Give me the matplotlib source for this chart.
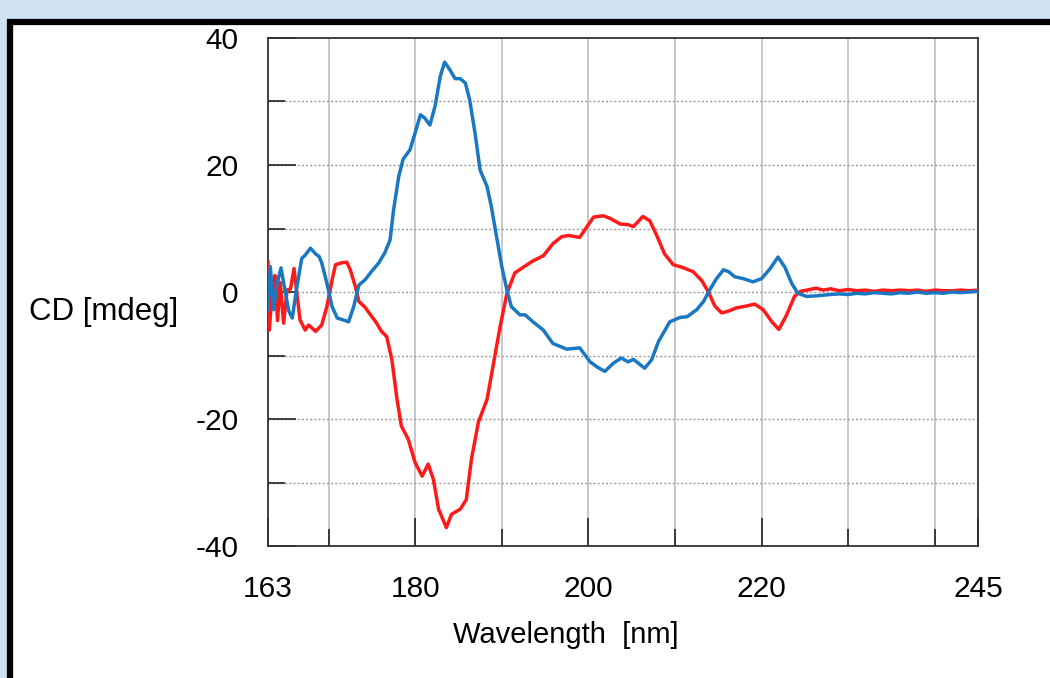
import matplotlib
matplotlib.use("Agg")
import matplotlib.pyplot as plt
from matplotlib.patches import Rectangle
from matplotlib.ticker import FixedLocator

plt.rcParams['font.family'] = ['Liberation Sans', 'DejaVu Sans']

# ---- data ----
blue_x = [163.0, 163.27, 163.65, 164.0, 164.5, 165.0, 165.4, 165.8, 166.3, 166.9, 167.3, 167.9,
          168.5, 168.9, 169.2, 169.8, 170.4, 171.0, 171.7, 172.3, 172.9, 173.5, 174.2, 175.0,
          175.8, 176.5, 177.1, 177.5, 178.1, 178.6, 179.4, 180.0, 180.6, 181.1, 181.7, 182.3,
          182.9, 183.4, 184.0, 184.6, 185.2, 185.8, 186.3, 186.9, 187.5, 188.3, 188.8, 189.4,
          190.0, 190.6, 191.1, 192.1, 192.7, 193.6, 194.8, 195.9, 197.5, 199.0, 200.2, 201.0,
          201.9, 202.9, 203.8, 204.6, 205.2, 206.5, 207.3, 208.1, 209.4, 210.6, 211.4, 212.5,
          213.3, 214.0, 214.8, 215.6, 216.2, 216.9, 217.9, 219.0, 220.0, 221.0, 221.9, 222.7,
          223.5, 224.2, 225.2, 226.4, 227.9, 229, 230, 231, 232, 233, 234, 235, 236, 237, 238,
          239, 240, 241, 242, 243, 244, 245]
blue_y = [-2.8, 4.0, -2.8, 1.0, 3.8, 0.0, -3.0, -4.1, 0.5, 5.3, 5.8, 6.9,
          6.0, 5.6, 4.6, 1.4, -2.3, -4.1, -4.4, -4.7, -2.3, 1.1, 1.9, 3.3,
          4.6, 6.2, 8.2, 12.9, 18.2, 20.9, 22.4, 25.1, 27.9, 27.4, 26.3, 29.3,
          34.0, 36.2, 35.0, 33.6, 33.6, 32.9, 30.2, 25.1, 19.2, 16.6, 13.4, 8.7,
          4.0, 0.3, -2.3, -3.6, -3.6, -4.7, -6.0, -8.1, -9.0, -8.8, -11.0, -11.8,
          -12.5, -11.2, -10.4, -11.0, -10.6, -12.0, -10.7, -7.8, -4.7, -4.0, -3.9, -2.8,
          -1.5, 0.3, 2.1, 3.5, 3.2, 2.4, 2.1, 1.6, 2.1, 3.7, 5.5, 3.9,
          1.3, -0.2, -0.7, -0.6, -0.4, -0.3, -0.4, -0.2, -0.3, -0.1, -0.2, -0.3, -0.1, -0.2, 0.0,
          -0.2, -0.1, -0.2, 0.0, -0.1, 0.0, 0.1]

red_x = [163.0, 163.15, 163.5, 163.8, 164.1, 164.4, 164.8, 165.2, 165.6, 166.0, 166.7, 167.3,
         167.7, 168.5, 169.2, 169.8, 170.4, 170.8, 171.5, 172.1, 172.5, 173.1, 173.5, 174.2,
         175.0, 175.5, 176.1, 176.7, 177.3, 177.9, 178.4, 179.2, 180.0, 180.8, 181.5, 182.1,
         182.7, 183.6, 184.2, 185.2, 185.9, 186.5, 187.3, 188.3, 189.0, 189.8, 190.6, 191.5,
         192.7, 193.6, 194.8, 195.9, 196.9, 197.7, 199.0, 199.8, 200.6, 201.7, 202.5, 203.7,
         204.6, 205.2, 206.3, 207.1, 207.9, 208.8, 209.8, 210.8, 212.1, 213.1, 213.9, 214.6,
         215.4, 216.2, 217.1, 218.3, 219.2, 220.2, 221.2, 222.0, 222.9, 223.8, 224.5, 225.6,
         226.3, 227.1, 228, 229, 230, 231, 232, 233, 234, 235, 236, 237, 238, 239, 240, 241,
         242, 243, 244, 245]
red_y = [4.7, -6.0, 0.5, 2.6, -4.5, 1.5, -4.9, 0.3, 0.5, 3.7, -4.4, -6.0,
         -5.2, -6.2, -5.2, -2.3, 1.9, 4.3, 4.6, 4.7, 3.5, 0.8, -1.5, -2.4,
         -3.9, -4.8, -6.2, -7.0, -10.6, -16.9, -21.1, -23.2, -26.9, -29.0, -27.1, -29.5,
         -34.2, -37.1, -35.0, -34.2, -32.7, -26.3, -20.5, -16.9, -11.6, -5.5, -0.2, 3.0,
         4.1, 4.9, 5.7, 7.6, 8.7, 8.9, 8.6, 10.2, 11.8, 12.0, 11.6, 10.7,
         10.6, 10.3, 11.9, 11.2, 8.9, 6.0, 4.3, 3.9, 3.2, 1.8, -0.1, -2.2,
         -3.3, -3.0, -2.5, -2.2, -1.9, -2.8, -4.7, -5.9, -3.6, -0.7, 0.1, 0.4,
         0.6, 0.3, 0.5, 0.2, 0.4, 0.2, 0.3, 0.1, 0.3, 0.2, 0.3, 0.2, 0.3, 0.1, 0.3, 0.2,
         0.2, 0.3, 0.2, 0.3]

x_tick_values = [163, 180, 200, 220, 245]
y_tick_values = [-40, -20, 0, 20, 40]
x_label = "Wavelength  [nm]"
y_label = "CD [mdeg]"

# ---- figure ----
fig = plt.figure(figsize=(10.5, 6.78), dpi=100, facecolor='#cfe2f2')
W, H = 1050, 678
panel = Rectangle((10 / W, -0.05), 1.1, 1 - 22 / H + 0.05, transform=fig.transFigure,
                  facecolor='white', edgecolor='black', linewidth=4.5, zorder=-5)
fig.patches.append(panel)

ax = fig.add_axes([268 / W, 1 - 546 / H, (978 - 268) / W, (546 - 38) / H])
ax.set_zorder(2)
ax.set_xlim(163, 245)
ax.set_ylim(-40, 40)

# grid
for gx in range(170, 245, 10):
    ax.axvline(gx, color='#c4c4c4', lw=1.3, zorder=1)
for gy in range(-30, 40, 10):
    ax.axhline(gy, color='#9a9a9a', lw=1.0, ls=(0, (1.5, 1.5)), zorder=1)

ax.plot(red_x, red_y, color='#ff1a1a', lw=2.5, solid_joinstyle='round', zorder=3)
ax.plot(blue_x, blue_y, color='#1a78c2', lw=2.5, solid_joinstyle='round', zorder=4)

ax.set_xticks(x_tick_values)
ax.set_xticklabels([str(v) for v in x_tick_values])
ax.set_yticks(y_tick_values)
ax.set_yticklabels([str(v) for v in y_tick_values])
ax.xaxis.set_minor_locator(FixedLocator([170, 190, 210, 230, 240]))
ax.yaxis.set_minor_locator(FixedLocator([-30, -10, 10, 30]))
ax.tick_params(axis='both', which='major', direction='in', length=20, width=1.2,
               color='#222222', labelsize=21.5)
ax.tick_params(axis='both', which='minor', direction='in', length=12, width=1.2,
               color='#222222')
ax.tick_params(axis='x', which='major', pad=21)
ax.tick_params(axis='y', which='major', pad=21)
ax.tick_params(top=False, right=False, which='both')
for s in ax.spines.values():
    s.set_color('#333333')
    s.set_linewidth(1.3)

fig.text(104 / W, 1 - 312 / H, y_label, fontsize=22.5, ha='center', va='center')
fig.text(566 / W, 1 - 635 / H, x_label, fontsize=21, ha='center', va='center')

fig.savefig('out.png', dpi=100, facecolor=fig.get_facecolor())
